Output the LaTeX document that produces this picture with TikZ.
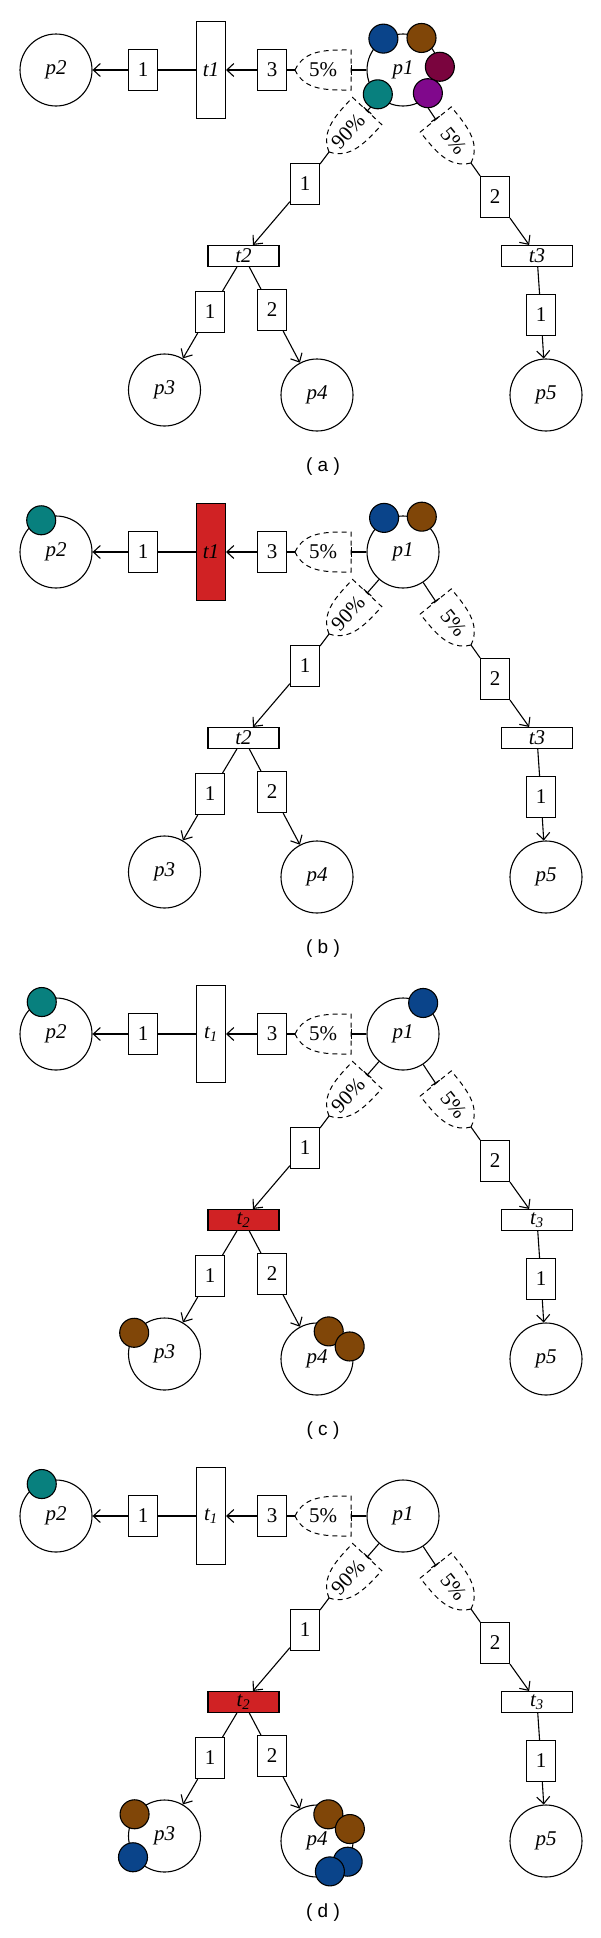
\documentclass[tikz,border=0pt]{standalone}
\usepackage{fontspec}
\setmainfont{Liberation Serif}
\setsansfont{Liberation Sans}
\usetikzlibrary{arrows.meta,calc}
\definecolor{tokblue}{RGB}{10,68,138}
\definecolor{tokbrown}{RGB}{128,70,8}
\definecolor{tokmaroon}{RGB}{122,4,62}
\definecolor{tokteal}{RGB}{8,128,126}
\definecolor{tokpurple}{RGB}{128,8,140}
\definecolor{firered}{RGB}{208,34,36}
\newcommand{\tname}[1]{t\ifnum\sub=1 \textsubscript{#1}\else#1\fi}
\newcommand{\probgate}[5]{%
  \begin{scope}[shift={#2},rotate=#3]
    \draw[gate] (0,0) to[out=65,in=180] (56,20) -- (56,-20) to[out=180,in=-65] (0,0);
    \coordinate (#1t) at (0,0);
    \coordinate (#1f) at (56,0);
    \node[rotate=#5] (#1l) at (28,0) {#4};
  \end{scope}}
\begin{document}
\begin{tikzpicture}[x=1pt,y=1pt,>={Straight Barb[length=7pt,width=13pt]},line width=1.1pt,
    font=\fontsize{21}{24}\selectfont,
    place/.style={circle,draw,minimum size=72,inner sep=0,font=\fontsize{21}{24}\selectfont\itshape},
    trans/.style={rectangle,draw,inner sep=0,font=\fontsize{21}{24}\selectfont\itshape},
    weight/.style={rectangle,draw,minimum width=29,minimum height=41,inner sep=0},
    tok/.style={circle,draw,minimum size=29,inner sep=0},
    gate/.style={dash pattern=on 5pt off 4pt,line width=1pt},
    inhib/.style={-{Bar[width=10pt]}},
    caplabel/.style={font=\sffamily\fontsize{19}{22}\selectfont}]
\useasboundingbox (0,0) rectangle (600,-1938);
\foreach \pn/\ys/\fa/\fb/\sub in {a/70/white/white/0, b/552/firered/white/0, c/1034/white/firered/1, d/1516/white/firered/1}{
  \begin{scope}[yshift=-\ys]
    \node[place] (\pn p2) at (56,0) {p2};
    \node[weight] (\pn w1) at (143,0) {1};
    \node[trans,minimum width=29,minimum height=97,fill=\fa] (\pn t1) at (211,0) {\tname1};
    \node[weight] (\pn w3) at (272,0) {3};
    \node[place] (\pn p1) at (403,0) {p1};
    \probgate{\pn g1}{(295,0)}{0}{5\%}{0}
    \probgate{\pn g2}{(329,-82)}{47}{90\%}{47}
    \probgate{\pn g3}{(471,-93)}{129}{5\%}{-51}
    \node[weight] (\pn w4) at (305,-114) {1};
    \node[weight] (\pn w5) at (495,-127) {2};
    \node[trans,minimum width=71,minimum height=21,fill=\fb] (\pn t2) at (243.5,-186) {\tname2};
    \node[trans,minimum width=71,minimum height=21] (\pn t3) at (537,-186) {\tname3};
    \node[weight] (\pn w6) at (210,-242) {1};
    \node[weight] (\pn w7) at (272,-240) {2};
    \node[weight] (\pn w8) at (541,-245) {1};
    \node[place] (\pn p3) at (164.5,-320) {p3};
    \node[place] (\pn p4) at (317,-325) {p4};
    \node[place] (\pn p5) at (546,-325) {p5};
    \node[caplabel] (\pn cap) at (323,-397) {(\ \pn\ )};
    % arcs
    \draw[->] (\pn w1) -- (\pn p2);
    \draw (\pn t1) -- (\pn w1);
    \draw[->] (\pn w3) -- (\pn t1);
    \draw (\pn g1t) -- (\pn w3);
    \draw[inhib] (\pn p1) -- (\pn g1f);
    \draw[inhib] (\pn p1) -- (\pn g2f);
    \draw[inhib] (\pn p1) -- (\pn g3f);
    \draw (\pn g2t) -- (\pn w4);
    \draw[->] (\pn w4) -- (\pn t2);
    \draw (\pn g3t) -- (\pn w5);
    \draw[->] (\pn w5) -- (\pn t3);
    \draw (\pn t2) -- (\pn w6);
    \draw[->] (\pn w6) -- (\pn p3);
    \draw (\pn t2) -- (\pn w7);
    \draw[->] (\pn w7) -- (\pn p4);
    \draw (\pn t3) -- (\pn w8);
    \draw[->] (\pn w8) -- (\pn p5);
  \end{scope}
}
% tokens (a)
\node[tok,fill=tokblue] (ak1) at ($(ap1)+(122:37)$) {};
\node[tok,fill=tokbrown] (ak2) at ($(ap1)+(60:37)$) {};
\node[tok,fill=tokmaroon] (ak3) at ($(ap1)+(5:37)$) {};
\node[tok,fill=tokteal] (ak4) at ($(ap1)+(224:35)$) {};
\node[tok,fill=tokpurple] (ak5) at ($(ap1)+(-43:34)$) {};
% tokens (b)
\node[tok,fill=tokteal] (bk1) at ($(bp2)+(115:35)$) {};
\node[tok,fill=tokblue] (bk2) at ($(bp1)+(119:39)$) {};
\node[tok,fill=tokbrown] (bk3) at ($(bp1)+(62:40)$) {};
% tokens (c)
\node[tok,fill=tokteal] (ck1) at ($(cp2)+(114:35)$) {};
\node[tok,fill=tokblue] (ck2) at ($(cp1)+(57:37)$) {};
\node[tok,fill=tokbrown] (ck3) at ($(cp3)+(145:37)$) {};
\node[tok,fill=tokbrown] (ck4) at ($(cp4)+(67:30)$) {};
\node[tok,fill=tokbrown] (ck5) at ($(cp4)+(21:35)$) {};
% tokens (d)
\node[tok,fill=tokteal] (dk1) at ($(dp2)+(114:35)$) {};
\node[tok,fill=tokbrown] (dk2) at ($(dp3)+(144:37)$) {};
\node[tok,fill=tokblue] (dk3) at ($(dp3)+(214:38)$) {};
\node[tok,fill=tokbrown] (dk4) at ($(dp4)+(67:29)$) {};
\node[tok,fill=tokbrown] (dk5) at ($(dp4)+(20:35)$) {};
\node[tok,fill=tokblue] (dk6) at ($(dp4)+(-34:37)$) {};
\node[tok,fill=tokblue] (dk7) at ($(dp4)+(-67:33)$) {};
\end{tikzpicture}
\end{document}
